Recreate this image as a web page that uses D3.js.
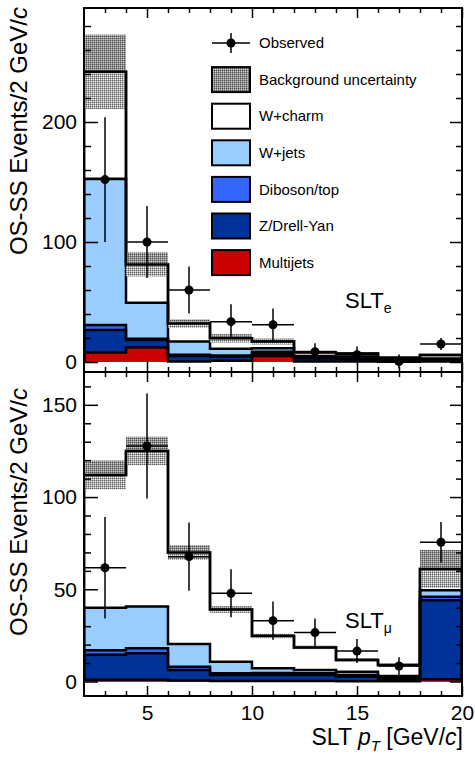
<!DOCTYPE html>
<html>
<head>
<meta charset="utf-8">
<script src="https://cdn.jsdelivr.net/npm/d3@7"></script>
<style>
body { margin: 0; background: #fff; }
text { font-family: "Liberation Sans", Arial, Helvetica, sans-serif; }
</style>
</head>
<body>
<div id="chart"></div>
<script>
// bins of 2 GeV/c in SLT pT
var binEdges = [2, 4, 6, 8, 10, 12, 14, 16, 18, 20];
var binCenters = [3, 5, 7, 9, 11, 13, 15, 17, 19];

// SLT_e panel (per-process, not cumulative)
var eMultijets = [8, 12, 0.5, 1, 5, 0.5, 0.5, 0.3, 0.5];
var eZDY = [18.7, 6.3, 4.5, 3.5, 2, 2.5, 2, 1, 1.2];
var eDiboson = [4.1, 1, 1, 1, 1.5, 0.5, 0.5, 0.2, 0.5];
var eWjets = [122, 30, 11, 5.5, 3, 1.5, 1.5, 0.8, 0.8];
var eWcharm = [89, 32, 15, 8.7, 5.5, 3, 2.5, 1.2, 2.8];
var eBkgUnc = [31, 10, 3.5, 3.5, 2.5, 1.5, 1.2, 1, 0.8];
var eObserved = [152, 100, 60, 33.6, 31, 8.6, 6, 0.3, 15];
var eObsErr = [52, 30, 19.5, 14.5, 13.5, 7, 7, 6, 5];

// SLT_mu panel
var mMultijets = [1, 1, 0.5, 0.3, 0.3, 0.3, 0.2, 0.2, 1.2];
var mZDY = [13.5, 14.3, 5.7, 3.2, 3.2, 3.2, 2.4, 1.3, 42.8];
var mDiboson = [2.5, 2.7, 1.8, 1, 1.1, 1, 0.9, 0.5, 2];
var mWjets = [23, 22.6, 12.3, 6.2, 2.6, 1.7, 1.8, 1, 3.5];
var mWcharm = [72, 84.4, 49.6, 28.3, 17.5, 12.3, 6.4, 6, 11.5];
var mBkgUnc = [7.8, 7.7, 4, 1.8, 1.2, 1, 0.8, 0.6, 10.3];
var mObserved = [61.7, 127.7, 67.7, 47.8, 33, 26.5, 16.5, 8.4, 75.5];
var mObsErr = [27.5, 28.5, 18.5, 13, 10.4, 7.6, 6.5, 4.8, 11];

var legendLabels = ["Observed", "Background uncertainty", "W+charm", "W+jets",
                    "Diboson/top", "Z/Drell-Yan", "Multijets"];
var layerColors = ["#cc0000", "#003399", "#3366ff", "#99ccff", "#ffffff"];

var svgWidth = 475, svgHeight = 758;
var plotLeft = 84, plotRight = 462;

var svg = d3.select("#chart").append("svg")
    .attr("width", svgWidth)
    .attr("height", svgHeight);

var defs = svg.append("defs");

function makePattern(id, base, dark, light) {
  var p = defs.append("pattern")
    .attr("id", id)
    .attr("patternUnits", "userSpaceOnUse")
    .attr("width", 2).attr("height", 2);
  p.append("rect").attr("width", 2).attr("height", 2).attr("fill", base);
  p.append("rect").attr("width", 1).attr("height", 1).attr("fill", dark);
  p.append("rect").attr("x", 1).attr("y", 1).attr("width", 1).attr("height", 1).attr("fill", light);
}
makePattern("bandDark", "#8c8c8c", "#555", "#c8c8c8");
makePattern("bandLight", "#a8a8a8", "#666", "#f0f0f0");

var x = d3.scaleLinear().domain([2, 20]).range([plotLeft, plotRight]);

function stepPath(vals, y) {
  var d = "M" + x(binEdges[0]) + "," + y(0);
  vals.forEach(function(v, i) {
    d += "V" + y(v) + "H" + x(binEdges[i + 1]);
  });
  d += "V" + y(0);
  return d;
}

function drawPanel(p) {
  var y = d3.scaleLinear().domain(p.domain).range([p.bottom, p.top]);
  var g = svg.append("g");

  var clipId = "clip" + p.id;
  defs.append("clipPath").attr("id", clipId)
    .append("rect")
    .attr("x", plotLeft).attr("y", p.top)
    .attr("width", plotRight - plotLeft).attr("height", p.bottom - p.top);

  var plot = g.append("g").attr("clip-path", "url(#" + clipId + ")");

  // cumulative stack, bottom to top
  var cum = [];
  var running = binCenters.map(function() { return 0; });
  p.layers.forEach(function(arr) {
    running = running.map(function(r, i) { return r + arr[i]; });
    cum.push(running.slice());
  });

  for (var k = cum.length - 1; k >= 0; k--) {
    plot.append("path")
      .attr("d", stepPath(cum[k], y) + "Z")
      .attr("fill", layerColors[k])
      .attr("stroke", "none");
  }
  for (var k2 = cum.length - 1; k2 >= 0; k2--) {
    plot.append("path")
      .attr("d", stepPath(cum[k2], y))
      .attr("fill", "none")
      .attr("stroke", "#000")
      .attr("stroke-width", 2.5);
  }

  var total = cum[cum.length - 1];

  // background uncertainty band
  binCenters.forEach(function(c, i) {
    var x0 = x(binEdges[i]), x1 = x(binEdges[i + 1]);
    plot.append("rect")
      .attr("x", x0).attr("width", x1 - x0)
      .attr("y", y(total[i] + p.unc[i]))
      .attr("height", y(total[i]) - y(total[i] + p.unc[i]))
      .attr("fill", "url(#bandDark)");
    plot.append("rect")
      .attr("x", x0).attr("width", x1 - x0)
      .attr("y", y(total[i]))
      .attr("height", y(total[i] - p.unc[i]) - y(total[i]))
      .attr("fill", "url(#bandLight)");
  });

  plot.append("path")
    .attr("d", stepPath(total, y))
    .attr("fill", "none")
    .attr("stroke", "#000")
    .attr("stroke-width", 2.5);

  // observed
  var obs = plot.selectAll("g.obs")
    .data(binCenters)
    .enter().append("g");
  obs.append("line")
    .attr("x1", function(d, i) { return x(binEdges[i]); })
    .attr("x2", function(d, i) { return x(binEdges[i + 1]); })
    .attr("y1", function(d, i) { return y(p.obs[i]); })
    .attr("y2", function(d, i) { return y(p.obs[i]); })
    .attr("stroke", "#000").attr("stroke-width", 1.5);
  obs.append("line")
    .attr("x1", function(d) { return x(d); })
    .attr("x2", function(d) { return x(d); })
    .attr("y1", function(d, i) { return y(p.obs[i] - p.obsErr[i]); })
    .attr("y2", function(d, i) { return y(p.obs[i] + p.obsErr[i]); })
    .attr("stroke", "#000").attr("stroke-width", 1.5);
  obs.append("circle")
    .attr("cx", function(d) { return x(d); })
    .attr("cy", function(d, i) { return y(p.obs[i]); })
    .attr("r", 4.5)
    .attr("fill", "#000");

  // axes
  var minorY = d3.range(p.minorStep, p.domain[1], p.minorStep)
    .filter(function(v) { return v % p.majorStep !== 0; });
  var majorY = d3.range(0, p.domain[1], p.majorStep);
  var minorX = d3.range(3, 20, 1).filter(function(v) { return v % 5 !== 0; });
  var majorX = [5, 10, 15, 20];

  function styleAxis(sel) {
    sel.select(".domain").remove();
    sel.selectAll("line").attr("stroke", "#000").attr("stroke-width", 1.5);
    sel.selectAll("text").attr("fill", "#000").style("font-size", "21px");
  }

  g.append("g").attr("transform", "translate(" + plotLeft + ",0)")
    .call(d3.axisLeft(y).tickValues(majorY).tickSize(-14).tickPadding(7).tickFormat(d3.format("d")))
    .call(styleAxis);
  g.append("g").attr("transform", "translate(" + plotLeft + ",0)")
    .call(d3.axisLeft(y).tickValues(minorY).tickSize(-7).tickFormat(""))
    .call(styleAxis);
  g.append("g").attr("transform", "translate(" + plotRight + ",0)")
    .call(d3.axisRight(y).tickValues(majorY).tickSize(-12).tickFormat(""))
    .call(styleAxis);
  g.append("g").attr("transform", "translate(" + plotRight + ",0)")
    .call(d3.axisRight(y).tickValues(minorY).tickSize(-6).tickFormat(""))
    .call(styleAxis);

  g.append("g").attr("transform", "translate(0," + p.top + ")")
    .call(d3.axisTop(x).tickValues(majorX).tickSize(-10).tickFormat(""))
    .call(styleAxis);
  g.append("g").attr("transform", "translate(0," + p.top + ")")
    .call(d3.axisTop(x).tickValues(minorX).tickSize(-5).tickFormat(""))
    .call(styleAxis);
  g.append("g").attr("transform", "translate(0," + p.bottom + ")")
    .call(d3.axisBottom(x).tickValues(majorX).tickSize(-10).tickPadding(9)
      .tickFormat(p.xLabels ? d3.format("d") : ""))
    .call(styleAxis);
  g.append("g").attr("transform", "translate(0," + p.bottom + ")")
    .call(d3.axisBottom(x).tickValues(minorX).tickSize(-5).tickFormat(""))
    .call(styleAxis);

  // frame
  g.append("rect")
    .attr("x", plotLeft).attr("y", p.top)
    .attr("width", plotRight - plotLeft).attr("height", p.bottom - p.top)
    .attr("fill", "none").attr("stroke", "#000").attr("stroke-width", 2);

  // y title
  var yt = g.append("text")
    .attr("transform", "translate(27," + p.titleEnd + ") rotate(-90)")
    .attr("text-anchor", "end")
    .style("font-size", "24px")
    .attr("fill", "#000");
  yt.append("tspan").text("OS-SS Events/2 GeV/");
  yt.append("tspan").attr("font-style", "italic").text("c");

  // panel label
  var pl = g.append("text")
    .attr("x", 345).attr("y", p.labelY)
    .style("font-size", "22px")
    .attr("fill", "#000");
  pl.append("tspan").text("SLT");
  pl.append("tspan").attr("dy", 5).style("font-size", "14px").text(p.sub);
}

drawPanel({
  id: "e", top: 8, bottom: 372, domain: [-8.33, 295],
  majorStep: 100, minorStep: 20,
  layers: [eMultijets, eZDY, eDiboson, eWjets, eWcharm],
  unc: eBkgUnc, obs: eObserved, obsErr: eObsErr,
  xLabels: false, titleEnd: 7, labelY: 308, sub: "e"
});

drawPanel({
  id: "m", top: 372, bottom: 696, domain: [-7.86, 167.8],
  majorStep: 50, minorStep: 10,
  layers: [mMultijets, mZDY, mDiboson, mWjets, mWcharm],
  unc: mBkgUnc, obs: mObserved, obsErr: mObsErr,
  xLabels: true, titleEnd: 388, labelY: 628, sub: "\u03bc"
});

// legend
var legend = svg.append("g");
var legendFills = [null, "url(#bandDark)", layerColors[4], layerColors[3],
                   layerColors[2], layerColors[1], layerColors[0]];
legendLabels.forEach(function(label, i) {
  var cy = 43 + i * 36.6;
  if (i === 0) {
    legend.append("line").attr("x1", 212).attr("x2", 250).attr("y1", cy).attr("y2", cy)
      .attr("stroke", "#000").attr("stroke-width", 1.5);
    legend.append("line").attr("x1", 231).attr("x2", 231).attr("y1", cy - 10).attr("y2", cy + 10)
      .attr("stroke", "#000").attr("stroke-width", 1.5);
    legend.append("circle").attr("cx", 231).attr("cy", cy).attr("r", 4.5).attr("fill", "#000");
  } else {
    legend.append("rect")
      .attr("x", 212).attr("y", cy - 12.5)
      .attr("width", 38).attr("height", 25)
      .attr("fill", legendFills[i])
      .attr("stroke", "#000").attr("stroke-width", 2);
  }
  legend.append("text")
    .attr("x", 259).attr("y", cy)
    .attr("dy", "0.35em")
    .style("font-size", "15px")
    .attr("fill", "#000")
    .text(label);
});

// x axis title
var xt = svg.append("text")
  .attr("x", 463).attr("y", 745)
  .attr("text-anchor", "end")
  .style("font-size", "23px")
  .attr("fill", "#000");
xt.append("tspan").text("SLT ");
xt.append("tspan").attr("font-style", "italic").text("p");
xt.append("tspan").attr("font-style", "italic").attr("dy", 6).style("font-size", "15px").text("T");
xt.append("tspan").attr("dy", -6).text(" [GeV/");
xt.append("tspan").attr("font-style", "italic").text("c");
xt.append("tspan").text("]");
</script>
</body>
</html>
